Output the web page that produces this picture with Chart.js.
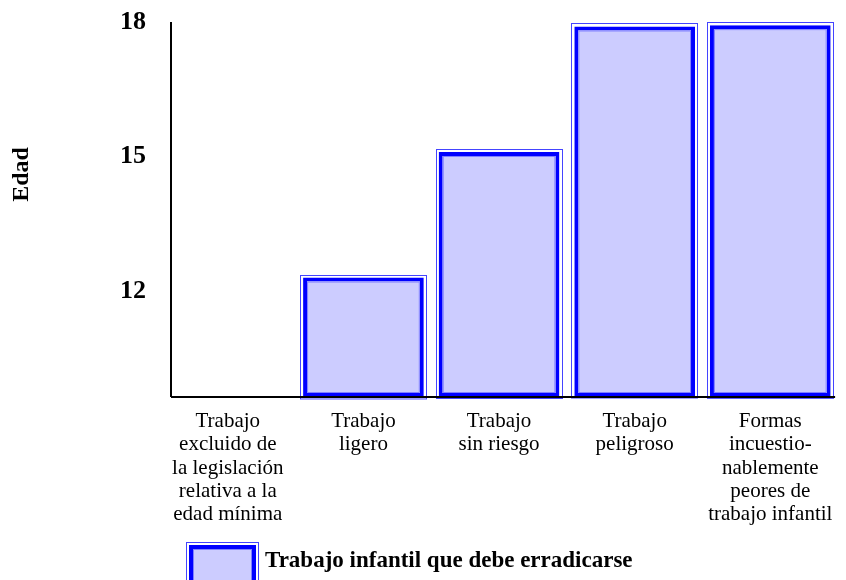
<!DOCTYPE html>
<html>
<head>
<meta charset="utf-8">
<script src="https://cdn.jsdelivr.net/npm/chart.js@4/dist/chart.umd.min.js"></script>
<style>
  html, body { margin: 0; padding: 0; background: #fff; }
  #wrap { width: 846px; height: 580px; position: relative; }
</style>
</head>
<body>
<div id="wrap"><canvas id="chart" width="846" height="580"></canvas></div>
<script>
// Data
const categories = [
    ['Trabajo', 'excluido de', 'la legislación', 'relativa a la', 'edad mínima'],
    ['Trabajo', 'ligero'],
    ['Trabajo', 'sin riesgo'],
    ['Trabajo', 'peligroso'],
    ['Formas', 'incuestio-', 'nablemente', 'peores de', 'trabajo infantil']
];
const edadValues = [null, 12.3, 15.1, 17.9, 17.93];
const yTicks = [12, 15, 18];
const yMin = 9.635;
const yMax = 18;
const seriesName = 'Trabajo infantil que debe erradicarse';
const axisTitle = 'Edad';

const SERIF = "'Liberation Serif', 'Times New Roman', serif";
const FILL = '#ccccff';
const BORDER = '#0000ff';
const THIN = '#4444ff';
const LIGHT = '#8080ff';

// Outer thin frame + light inner line round each bar, then axes on top
const decorations = {
    id: 'decorations',
    afterDatasetsDraw(chart) {
        const ctx = chart.ctx;
        const meta = chart.getDatasetMeta(0);
        ctx.save();
        meta.data.forEach((bar, i) => {
            if (edadValues[i] == null) return;
            const p = bar.getProps(['x', 'y', 'base', 'width'], true);
            const left = p.x - p.width / 2;
            const w = p.width;
            const h = p.base - p.y;
            ctx.lineWidth = 1;
            ctx.strokeStyle = LIGHT;
            ctx.strokeRect(left + 4.5, p.y + 4.5, w - 9, h - 9);
            ctx.strokeStyle = THIN;
            ctx.strokeRect(Math.round(left) - 2.5, Math.round(p.y) - 2.5, Math.round(w) + 5, h + 4);
        });

        // axes
        const a = chart.chartArea;
        const ax = a.left + 11;
        ctx.strokeStyle = '#000';
        ctx.lineWidth = 2;
        ctx.beginPath();
        ctx.moveTo(ax, a.top);
        ctx.lineTo(ax, a.bottom);
        ctx.moveTo(ax, a.bottom);
        ctx.lineTo(a.right - 3, a.bottom);
        ctx.stroke();
        ctx.restore();
    },
    afterDraw(chart) {
        const ctx = chart.ctx;
        ctx.save();
        // y axis title
        ctx.fillStyle = '#000';
        ctx.font = 'bold 24px ' + SERIF;
        ctx.translate(21.5, 174.5);
        ctx.rotate(-Math.PI / 2);
        ctx.textAlign = 'center';
        ctx.textBaseline = 'middle';
        ctx.fillText(axisTitle, 0, 0);
        ctx.restore();

        // legend
        ctx.save();
        ctx.fillStyle = BORDER;
        ctx.fillRect(189, 545, 67, 40);
        ctx.fillStyle = FILL;
        ctx.fillRect(193, 549, 59, 32);
        ctx.lineWidth = 1;
        ctx.strokeStyle = LIGHT;
        ctx.strokeRect(193.5, 549.5, 58, 31);
        ctx.strokeStyle = THIN;
        ctx.strokeRect(186.5, 542.5, 72, 46);
        ctx.fillStyle = '#000';
        ctx.font = 'bold 23px ' + SERIF;
        ctx.textAlign = 'left';
        ctx.textBaseline = 'alphabetic';
        ctx.fillText(seriesName, 265, 567);
        ctx.restore();
    }
};

new Chart(document.getElementById('chart'), {
    type: 'bar',
    data: {
        labels: categories,
        datasets: [{
            label: seriesName,
            data: edadValues,
            base: yMin,
            backgroundColor: FILL,
            borderColor: BORDER,
            borderWidth: 4,
            borderSkipped: false,
            barPercentage: 0.89,
            categoryPercentage: 1
        }]
    },
    options: {
        responsive: false,
        animation: false,
        layout: { padding: { top: 22, right: 6, bottom: 0, left: 0 } },
        plugins: {
            legend: { display: false },
            tooltip: { enabled: false }
        },
        scales: {
            x: {
                grid: { display: false, drawTicks: false },
                border: { display: false },
                ticks: {
                    color: '#000',
                    font: { family: SERIF, size: 21, lineHeight: 1.11 },
                    padding: 13,
                    autoSkip: false,
                    maxRotation: 0,
                    minRotation: 0
                },
                afterFit(scale) { scale.height = 183; }
            },
            y: {
                min: yMin,
                max: yMax,
                beginAtZero: false,
                grid: { display: false, drawTicks: false },
                border: { display: false },
                afterBuildTicks(scale) {
                    scale.ticks = yTicks.map(v => ({ value: v }));
                },
                ticks: {
                    color: '#000',
                    font: { family: SERIF, size: 26, weight: 'bold' },
                    padding: 14
                },
                afterFit(scale) {
                    scale.width = 160;
                    scale.paddingTop = 0;
                    scale.paddingBottom = 0;
                }
            }
        }
    },
    plugins: [decorations]
});
</script>
</body>
</html>
